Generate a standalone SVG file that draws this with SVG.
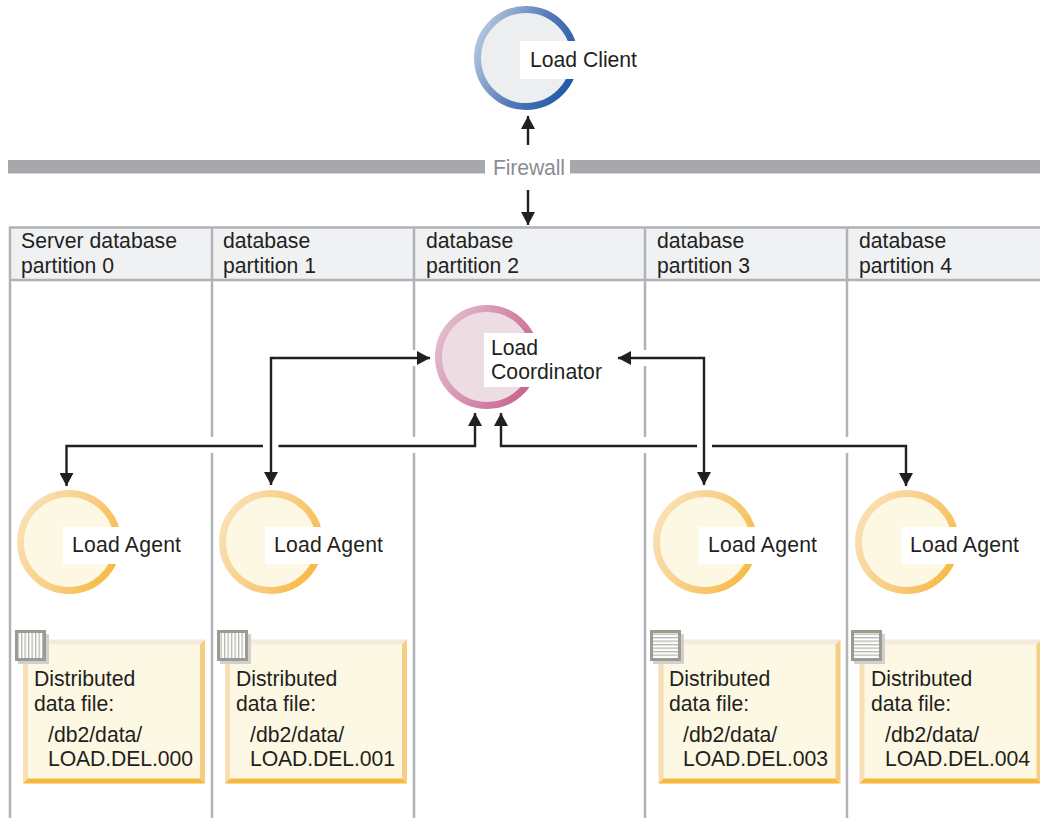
<svg xmlns="http://www.w3.org/2000/svg" width="1040" height="818" viewBox="0 0 1040 818">
<style>
text{font-family:"Liberation Sans",Arial,sans-serif;font-size:21.200px;fill:#231f20}
.pl{stroke:#b1b2b6;stroke-width:2.5;fill:none}
.cn{stroke:#231f20;stroke-width:2.4;fill:none}
.bar{fill:#a7a8ac}
.nt{fill:#fff}
.shd{fill:#cfd0d2}
.ic{stroke:#9b9c8f;stroke-width:3}
</style>
<defs>
<linearGradient id="gb" x1="0" y1="0.35" x2="1" y2="0.8"><stop offset="0" stop-color="#adc2dc"/><stop offset="0.5" stop-color="#5579b8"/><stop offset="1" stop-color="#1c57a5"/></linearGradient>
<linearGradient id="gp" x1="0" y1="0.35" x2="1" y2="0.8"><stop offset="0" stop-color="#e2b8cb"/><stop offset="0.5" stop-color="#d48aaa"/><stop offset="1" stop-color="#c6608c"/></linearGradient>
<linearGradient id="gy" x1="0" y1="0.35" x2="1" y2="0.8"><stop offset="0" stop-color="#fadfb2"/><stop offset="0.5" stop-color="#f8cd82"/><stop offset="1" stop-color="#f7b840"/></linearGradient>
<marker id="a" markerUnits="userSpaceOnUse" markerWidth="14" markerHeight="14" refX="13" refY="7" orient="auto-start-reverse"><path d="M0 0L13 7L0 14Z" fill="#231f20"/></marker>
<g id="ag"><circle r="48.500" fill="#fdf8e3" stroke="url(#gy)" stroke-width="7"/></g>
<g id="fb"><path d="M0 0H182V144H0Z" fill="#fdf8e3"/><path d="M0 0H182L177 5H5Z" fill="#f5ebdc"/><path d="M0 0L5 5V139L0 144Z" fill="#f6dfb5"/><path d="M182 0V144L177 139V5Z" fill="#f6cd85"/><path d="M0 144L5 139H177L182 144Z" fill="#f7b840"/></g>
<pattern id="pv" width="3.500" height="4" patternUnits="userSpaceOnUse"><rect width="3.500" height="4" fill="#fff"/><rect width="1.300" height="4" fill="#b5b6ae"/></pattern>
<pattern id="ph" width="4" height="3.500" patternUnits="userSpaceOnUse"><rect width="4" height="3.500" fill="#fff"/><rect width="4" height="1.300" fill="#b5b6ae"/></pattern>
</defs>

<g id="firewall"><rect class="bar" x="8" y="160" width="477" height="13.500"/><rect class="bar" x="570" y="160" width="470" height="13.500"/><text x="493" y="175" textLength="72" style="fill:#8c8d92">Firewall</text></g>

<g id="table">
<rect x="10" y="227" width="1030" height="53" fill="#f0f1f3"/>
<path class="pl" d="M8.800 227.500H1040M10 280H1040M10 227V818M212 227V437M212 453V818M414 227V350M414 366V437M414 453V818M645 227V350M645 366V437M645 453V818M847 227V437M847 453V818"/>
<text x="21" y="248" textLength="156">Server database</text><text x="21" y="272.500">partition 0</text>
<text x="223" y="248">database</text><text x="223" y="272.500">partition 1</text>
<text x="426" y="248">database</text><text x="426" y="272.500">partition 2</text>
<text x="657" y="248">database</text><text x="657" y="272.500">partition 3</text>
<text x="859" y="248">database</text><text x="859" y="272.500">partition 4</text>
</g>

<g id="connectors">
<path class="cn" d="M528 145V116" marker-end="url(#a)"/>
<path class="cn" d="M528 190V225" marker-end="url(#a)"/>
<path class="cn" d="M271 485V358H430" marker-start="url(#a)" marker-end="url(#a)"/>
<path class="cn" d="M704 485V358H618" marker-start="url(#a)" marker-end="url(#a)"/>
<path class="cn" d="M66.500 486V446H263M278.500 446H475V413" marker-start="url(#a)" marker-end="url(#a)"/>
<path class="cn" d="M501 413V446H697M712 446H906V486" marker-start="url(#a)" marker-end="url(#a)"/>
</g>

<g id="load-client"><circle cx="526" cy="58" r="48.500" fill="#eceef0" stroke="url(#gb)" stroke-width="7"/><rect class="nt" x="520" y="41" width="120" height="38"/><text x="530" y="67" textLength="107">Load Client</text></g>
<g id="load-coordinator"><circle cx="487" cy="357" r="48.500" fill="#eddde3" stroke="url(#gp)" stroke-width="7"/><rect class="nt" x="484" y="333" width="122" height="54"/><text x="491" y="355">Load</text><text x="491" y="379" textLength="111">Coordinator</text></g>

<g id="agent-0"><use href="#ag" x="69" y="542"/><rect class="nt" x="63" y="527" width="122" height="37"/><text x="72" y="552" textLength="109">Load Agent</text></g>
<g id="agent-1"><use href="#ag" x="271" y="542"/><rect class="nt" x="265" y="527" width="122" height="37"/><text x="274" y="552" textLength="109">Load Agent</text></g>
<g id="agent-3"><use href="#ag" x="705" y="542"/><rect class="nt" x="699" y="527" width="122" height="37"/><text x="708" y="552" textLength="109">Load Agent</text></g>
<g id="agent-4"><use href="#ag" x="907" y="542"/><rect class="nt" x="901" y="527" width="122" height="37"/><text x="910" y="552" textLength="109">Load Agent</text></g>

<g id="file-0"><use href="#fb" x="23" y="639.500"/><rect class="shd" x="18" y="634" width="31" height="30"/><rect class="ic" x="16.500" y="631.500" width="28" height="28" fill="url(#pv)"/><text x="34" y="686">Distributed</text><text x="34" y="710.500">data file:</text><text x="48" y="742">/db2/data/</text><text x="48" y="766" textLength="145">LOAD.DEL.000</text></g>
<g id="file-1"><use href="#fb" x="225" y="639.500"/><rect class="shd" x="220" y="634" width="31" height="30"/><rect class="ic" x="218.500" y="631.500" width="28" height="28" fill="url(#pv)"/><text x="236" y="686">Distributed</text><text x="236" y="710.500">data file:</text><text x="250" y="742">/db2/data/</text><text x="250" y="766" textLength="145">LOAD.DEL.001</text></g>
<g id="file-3"><use href="#fb" x="658.500" y="639.500"/><rect class="shd" x="653" y="634" width="31" height="30"/><rect class="ic" x="651.500" y="631.500" width="28" height="28" fill="url(#ph)"/><text x="669" y="686">Distributed</text><text x="669" y="710.500">data file:</text><text x="683" y="742">/db2/data/</text><text x="683" y="766" textLength="145">LOAD.DEL.003</text></g>
<g id="file-4"><use href="#fb" x="859.500" y="639.500"/><rect class="shd" x="854" y="634" width="31" height="30"/><rect class="ic" x="852.500" y="631.500" width="28" height="28" fill="url(#ph)"/><text x="871" y="686">Distributed</text><text x="871" y="710.500">data file:</text><text x="885" y="742">/db2/data/</text><text x="885" y="766" textLength="145">LOAD.DEL.004</text></g>
</svg>
